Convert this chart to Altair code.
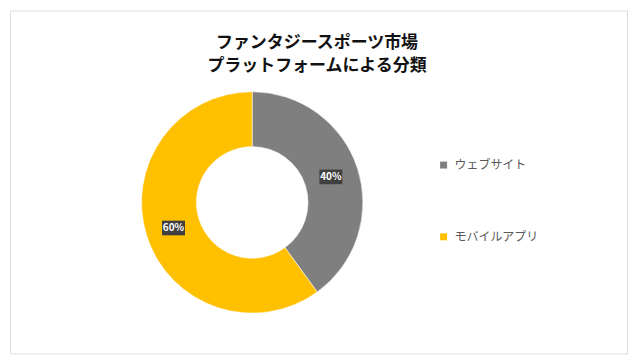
import altair as alt
import pandas as pd

# data
categories = ["ウェブサイト", "モバイルアプリ"]
values = [40, 60]
labels = ["40%", "60%"]
colors = ["#7f7f7f", "#ffc000"]
title_lines = ["ファンタジースポーツ市場", "プラットフォームによる分類"]

FONT = "Noto Sans CJK JP"
PAD = 2
W, H = 619, 344
CX, CY = 245 - PAD, 194.5 - PAD
R_OUT, R_IN = 111, 56
R_LAB = 83

df = pd.DataFrame({"category": categories, "value": values,
                   "label": labels, "order": list(range(len(categories)))})

arc = alt.Chart(df).mark_arc(outerRadius=R_OUT, innerRadius=R_IN,
                             stroke="white", strokeWidth=0.5).encode(
    theta=alt.Theta("value:Q", stack=True),
    color=alt.Color("category:N",
                    scale=alt.Scale(domain=categories, range=colors),
                    sort=categories,
                    legend=alt.Legend(orient="none", legendX=431 - PAD, legendY=151 - PAD,
                                      title=None, symbolType="square",
                                      symbolSize=49, symbolStrokeWidth=0,
                                      labelFontSize=12, labelColor="#595959",
                                      labelFont=FONT, rowPadding=60,
                                      labelOffset=5)),
    order=alt.Order("order:Q"),
    x=alt.value(CX), y=alt.value(CY),
)

lab_base = alt.Chart(df).transform_joinaggregate(
    total="sum(value)"
).transform_window(
    cum="sum(value)", sort=[alt.SortField("order")]
).transform_calculate(
    mid="2*PI*(datum.cum - datum.value/2)/datum.total",
    lx=f"{CX}+{R_LAB}*sin(datum.mid)",
    ly=f"{CY}-{R_LAB}*cos(datum.mid)",
)

boxes = lab_base.mark_point(
    shape="M-1,-0.64H1V0.64H-1Z", size=529, filled=True,
    color="#404040", opacity=1, strokeWidth=0
).encode(
    x=alt.X("lx:Q", scale=None, axis=None),
    y=alt.Y("ly:Q", scale=None, axis=None),
)

texts = lab_base.mark_text(
    font=FONT, fontSize=10, fontWeight="bold", color="white",
    baseline="middle", align="center"
).encode(
    x=alt.X("lx:Q", scale=None, axis=None),
    y=alt.Y("ly:Q", scale=None, axis=None),
    text="label:N",
)

t_df = pd.DataFrame({"t": title_lines})
title1 = alt.Chart(t_df).transform_filter(f"datum.t == '{title_lines[0]}'").mark_text(
    font=FONT, fontSize=17, fontWeight="bold", color="#111111",
    baseline="middle", align="center"
).encode(text="t:N", x=alt.value(310 - PAD), y=alt.value(35 - PAD))
title2 = alt.Chart(t_df).transform_filter(f"datum.t == '{title_lines[1]}'").mark_text(
    font=FONT, fontSize=17, fontWeight="bold", color="#111111",
    baseline="middle", align="center"
).encode(text="t:N", x=alt.value(310 - PAD), y=alt.value(58 - PAD))

chart = alt.layer(arc, boxes, texts, title1, title2).properties(
    width=W, height=H, padding=PAD,
    autosize=alt.AutoSizeParams(type="none"),
).configure_view(stroke="#8a8a8a", strokeWidth=1.5).configure(background="white")

chart.save("out.html", embed_options={"renderer": "svg", "actions": False})
